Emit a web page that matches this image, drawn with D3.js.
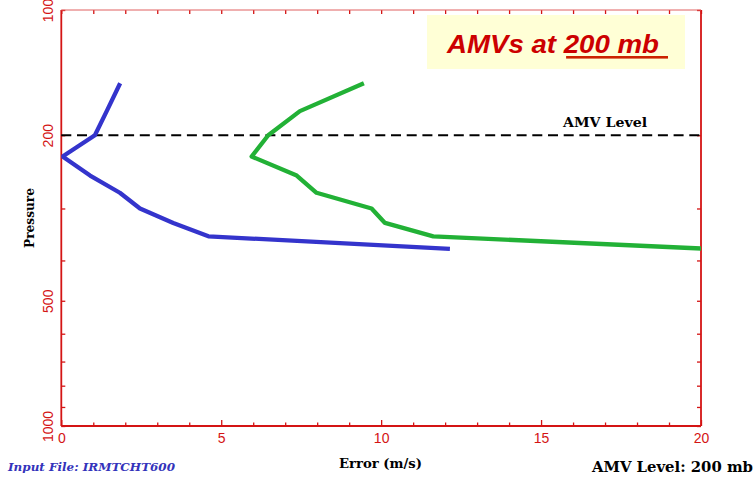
<!DOCTYPE html>
<html>
<head>
<meta charset="utf-8">
<script src="https://cdn.jsdelivr.net/npm/d3@7"></script>
<style>
  html, body { margin: 0; padding: 0; background: #fff; }
  svg { display: block; }
</style>
</head>
<body>
<div id="chart"></div>
<script>
// pressure levels (mb) and mean error (m/s) for the two curves
const pressureLevels = [150, 175, 200, 225, 250, 275, 300, 325, 350, 375]
const errorBlue = [1.84, 1.42, 1.05, 0.04, 0.9, 1.83, 2.46, 3.5, 4.6, 12.15]
const errorGreen = [9.46, 7.46, 6.47, 5.95, 7.36, 7.98, 9.7, 10.12, 11.63, 20.2]

const amvLevel = 200
const xTickLabels = [0, 5, 10, 15, 20]
const xMinorTicks = [1, 2, 3, 4, 6, 7, 8, 9, 11, 12, 13, 14, 16, 17, 18, 19]
const yTickLabels = [100, 200, 500, 1000]
const yMinorTicks = [300, 400, 600, 700, 800, 900]

const W = 755, H = 478
const RED = '#d41414'
const plot = { left: 61.3, right: 701, top: 10, bottom: 426 }

const svg = d3.select('#chart').append('svg')
  .attr('width', W).attr('height', H)

const x = d3.scaleLinear().domain([0, 20]).range([plot.left, plot.right])
const y = d3.scaleLog().domain([100, 1000]).range([plot.top, plot.bottom])

// title box
svg.append('rect')
  .attr('x', 427).attr('y', 15).attr('width', 258).attr('height', 54)
  .attr('fill', '#ffffd6')

const title = svg.append('text')
  .attr('x', 447).attr('y', 53)
  .attr('font-family', '"Liberation Sans", Arial, sans-serif')
  .attr('font-weight', 'bold').attr('font-style', 'italic')
  .attr('font-size', 26).attr('fill', '#cc0000')
title.append('tspan').text('AMVs at ')
title.append('tspan').text('200 mb')
const tNode = title.node()
const fullLen = tNode.getComputedTextLength()
const scaleK = 212 / fullLen
title.attr('textLength', 212).attr('lengthAdjust', 'spacingAndGlyphs')
const startU = tNode.getSubStringLength(0, 8) * scaleK
svg.append('rect')
  .attr('x', 447 + startU - 5).attr('y', 56)
  .attr('width', 668 - (447 + startU - 5)).attr('height', 2.6)
  .attr('fill', '#cc2200')

// axes (ticks point inward on all four sides)
const gx = svg.append('g').attr('transform', `translate(0,${plot.bottom})`)
gx.call(d3.axisBottom(x).tickValues(xTickLabels).tickSize(-6).tickSizeOuter(0).tickFormat(d3.format('d')))
gx.call(g => g.selectAll('text').attr('y', 17).attr('dy', 0))
gx.append('g').call(d3.axisBottom(x).tickValues(xMinorTicks).tickSize(-3.5).tickSizeOuter(0).tickFormat(''))

const gt = svg.append('g').attr('transform', `translate(0,${plot.top})`)
gt.call(d3.axisTop(x).tickValues(xTickLabels.concat(xMinorTicks)).tickSize(-4).tickSizeOuter(0).tickFormat(''))

const gy = svg.append('g').attr('transform', `translate(${plot.left},0)`)
gy.call(d3.axisLeft(y).tickValues(yTickLabels).tickSize(-4).tickSizeOuter(0).tickFormat(d3.format('d')))
gy.call(g => g.selectAll('text')
  .attr('transform', 'rotate(-90)')
  .attr('x', 0).attr('y', -8).attr('dy', 0)
  .attr('text-anchor', 'middle'))
gy.append('g').call(d3.axisLeft(y).tickValues(yMinorTicks).tickSize(-4).tickSizeOuter(0).tickFormat(''))

const gr = svg.append('g').attr('transform', `translate(${plot.right},0)`)
gr.call(d3.axisRight(y).tickValues(yTickLabels.concat(yMinorTicks)).tickSize(-4).tickSizeOuter(0).tickFormat(''))

svg.selectAll('.domain').remove()
svg.selectAll('.tick line').attr('stroke', RED).attr('stroke-width', 1.3)
svg.selectAll('.tick text')
  .attr('fill', RED)
  .attr('font-family', '"Liberation Sans", Arial, sans-serif')
  .attr('font-size', 14)

// frame
const frame = svg.append('g').attr('fill', 'none').attr('stroke', RED)
frame.append('line').attr('x1', plot.left).attr('x2', plot.left).attr('y1', plot.top).attr('y2', plot.bottom).attr('stroke-width', 1.8)
frame.append('line').attr('x1', plot.right).attr('x2', plot.right).attr('y1', plot.top).attr('y2', plot.bottom).attr('stroke-width', 1.8)
frame.append('line').attr('x1', plot.left).attr('x2', plot.right).attr('y1', plot.bottom).attr('y2', plot.bottom).attr('stroke-width', 1.8)
frame.append('line').attr('x1', plot.left).attr('x2', plot.right).attr('y1', plot.top).attr('y2', plot.top).attr('stroke-width', 1).attr('stroke', '#e06060')

// clip
svg.append('clipPath').attr('id', 'plotclip').append('rect')
  .attr('x', plot.left).attr('y', plot.top)
  .attr('width', plot.right - plot.left).attr('height', plot.bottom - plot.top)

// AMV level dashed line
svg.append('line')
  .attr('x1', x(0)).attr('x2', x(20))
  .attr('y1', y(amvLevel)).attr('y2', y(amvLevel))
  .attr('stroke', '#000').attr('stroke-width', 2)
  .attr('stroke-dasharray', '10,5.7')

svg.append('text')
  .attr('x', 563).attr('y', 127)
  .attr('font-family', '"DejaVu Serif", serif').attr('font-weight', 'bold')
  .attr('font-size', 13).attr('textLength', 84).attr('lengthAdjust', 'spacingAndGlyphs')
  .text('AMV Level')

// curves
const line = d3.line().x(d => x(d[0])).y(d => y(d[1]))
const curves = [
  { err: errorBlue, color: '#3434cc' },
  { err: errorGreen, color: '#22b136' },
]
curves.forEach(c => {
  svg.append('path')
    .datum(c.err.map((e, i) => [e, pressureLevels[i]]))
    .attr('clip-path', 'url(#plotclip)')
    .attr('d', line)
    .attr('fill', 'none')
    .attr('stroke', c.color)
    .attr('stroke-width', 4.3)
    .attr('stroke-linejoin', 'round')
})

// axis titles
svg.append('text')
  .attr('transform', 'translate(34,218) rotate(-90)')
  .attr('text-anchor', 'middle')
  .attr('font-family', '"DejaVu Serif", serif').attr('font-weight', 'bold')
  .attr('font-size', 12).attr('textLength', 60).attr('lengthAdjust', 'spacingAndGlyphs')
  .text('Pressure')

svg.append('text')
  .attr('x', 339).attr('y', 468)
  .attr('font-family', '"DejaVu Serif", serif').attr('font-weight', 'bold')
  .attr('font-size', 12).attr('textLength', 83).attr('lengthAdjust', 'spacingAndGlyphs')
  .text('Error (m/s)')

svg.append('text')
  .attr('x', 592).attr('y', 472)
  .attr('font-family', '"DejaVu Serif", serif').attr('font-weight', 'bold')
  .attr('font-size', 14).attr('textLength', 161).attr('lengthAdjust', 'spacingAndGlyphs')
  .text('AMV Level: 200 mb')

svg.append('text')
  .attr('x', 8).attr('y', 471)
  .attr('font-family', '"DejaVu Serif", serif').attr('font-weight', 'bold').attr('font-style', 'italic')
  .attr('font-size', 11).attr('fill', '#3333bb')
  .attr('textLength', 167).attr('lengthAdjust', 'spacingAndGlyphs')
  .text('Input File: IRMTCHT600')
</script>
</body>
</html>
